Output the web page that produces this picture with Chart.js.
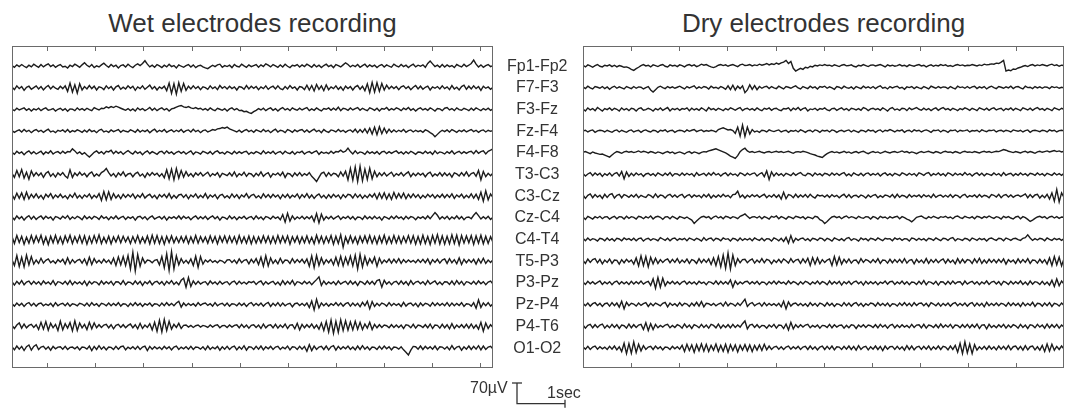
<!DOCTYPE html>
<html>
<head>
<meta charset="utf-8">
<script src="https://cdn.jsdelivr.net/npm/chart.js@4.4.1/dist/chart.umd.min.js"></script>
<style>
  body { margin: 0; background: #fff; width: 1070px; height: 410px; overflow: hidden; position: relative;
         font-family: "Liberation Sans", Arial, Helvetica, sans-serif; color: #333; }
  .title { position: absolute; top: 8px; font-size: 26px; line-height: 30px; text-align: center; white-space: nowrap; }
  .note { position: absolute; font-size: 16px; line-height: 18px; white-space: nowrap; }
  canvas { position: absolute; }
</style>
</head>
<body>
<div class="title" style="left:12px;width:481px">Wet electrodes recording</div>
<div class="title" style="left:583px;width:481px">Dry electrodes recording</div>
<canvas id="wet" width="583" height="410" style="left:0;top:0"></canvas>
<canvas id="dry" width="495" height="410" style="left:575px;top:0"></canvas>
<canvas id="bar" width="80" height="40" style="left:500px;top:370px"></canvas>
<div class="note" style="left:470px;top:379px">70µV</div>
<div class="note" style="left:547px;top:384px">1sec</div>
<script>
// Channel montage, top to bottom
const channels = ['Fp1-Fp2', 'F7-F3', 'F3-Fz', 'Fz-F4', 'F4-F8', 'T3-C3', 'C3-Cz',
                  'Cz-C4', 'C4-T4', 'T5-P3', 'P3-Pz', 'Pz-P4', 'P4-T6', 'O1-O2'];
const secondTicks = [1, 2, 3, 4, 5, 6, 7, 8, 9, 10];
const sampleStep = 0.0502;   // s between plotted samples (200 per trace)
const channelGapUV = 63.2;   // vertical spacing between traces, µV
const scaleUV = 70;
const scaleSec = 1;

// Wet electrode traces, µV
const wetTraces = [
  // Fp1-Fp2
  [2,-3,4,-1,5,0,-4,3,-2,6, 1,-3,5,-2,3,7,-1,4,-3,2, 5,-2,0,-5,3,-1,6,2,-3,4, 10,3,-2,5,-4,1,-2,4,9,2,
   -3,5,-1,3,-5,2,4,-2,6,0, -4,3,7,2,8,16,6,-2,3,-3, 5,1,-4,3,-2,6,-1,2,-5,4, 0,-3,2,5,-2,4,-4,1,3,-2,
   -5,-7,-2,3,-1,4,6,-3,2,-1, 3,-4,5,0,-2,6,1,-3,4,-1, 2,5,-3,4,-1,7,3,-2,5,1, -3,4,-2,6,0,-4,3,1,5,-2,
   4,-1,6,2,-3,5,-2,3,-4,2, 6,-1,3,-4,5,2,-2,4,10,5, -2,3,-1,5,-3,2,6,-2,4,-1, 3,-4,2,5,-2,4,0,-3,6,1,
   -2,5,-1,3,-4,2,6,-2,3,0, 4,-3,8,15,7,-1,3,-3,5,-2, 4,-1,2,-4,5,1,-2,6,-1,3, 8,18,6,-2,4,-3,2,5,-1,2],
  // F7-F3
  [3,-5,6,-2,4,-7,2,5,-4,1, 6,-3,4,-6,2,7,-3,5,-1,-4, 5,-2,6,-10,14,-12,9,-15,12,-6, 4,-3,7,-2,5,-6,3,1,-5,6,
   -2,4,-6,3,7,-4,2,-3,6,-1, 5,-7,3,-2,6,-4,2,8,-3,4, -6,3,-2,5,-8,14,-16,12,-18,15, -10,13,-7,5,-3,6,-2,4,-5,3,
   1,-4,6,-2,3,-5,7,-1,4,-3, 5,-2,3,-6,4,2,-4,7,-3,5, -1,4,-5,3,-2,6,-4,2,5,-3, 6,-2,-5,4,-3,7,-1,3,-6,4,
   2,-5,8,-6,7,-9,10,-4,6,-8, 9,-5,3,-2,6,-4,3,-7,5,-2, 4,-6,3,7,-4,5,-8,12,-14,16, -12,15,-10,13,-6,8,-3,5,-2,4,
   -5,3,6,-2,4,-5,2,7,-3,5, -4,2,5,-6,3,-1,4,-3,6,-2, 3,-5,7,-3,2,-6,4,8,-4,5, -3,6,-2,4,-7,5,-1,3,-4,2],
  // F3-Fz
  [1,-3,4,-1,2,5,-2,3,-4,2, -1,4,-3,2,5,-2,0,3,-4,1, 4,-2,3,-5,2,1,-3,5,-1,3, -2,4,0,-3,6,2,-1,4,3,8,
   5,9,6,10,7,4,1,-2,3,-3, 2,-4,5,-1,3,-3,1,6,-2,4, -3,2,5,-1,3,-4,2,4,7,10, 12,8,6,9,5,3,6,2,4,-1,
   3,-2,5,0,-3,4,1,-2,3,-4, 2,5,-1,3,-3,-2,-6,-5,-9,-11, -6,-2,3,-1,4,-3,2,5,-2,3, -4,2,6,-1,3,-3,5,1,-2,4,
   -1,3,6,-3,2,-2,5,0,-4,3, 1,5,-2,4,-1,7,-3,4,2,-2, 5,-1,3,6,-2,4,0,-3,5,2, -2,4,-4,3,1,6,-2,3,-1,5,
   2,-3,4,0,6,-2,3,-4,2,5, -1,3,-2,5,1,-4,3,2,-3,4, 6,-1,3,-3,5,0,-2,4,1,-3, 4,-2,5,1,-3,3,-1,4,-2,2],
  // Fz-F4
  [2,-3,1,4,-2,5,-1,3,-4,2, 5,-1,3,-3,2,6,-2,1,-4,3, 0,4,-2,5,-3,2,-1,4,1,-3, 3,-2,5,-1,2,-4,3,6,-2,1,
   -3,4,-1,2,5,-3,3,0,-2,4, 1,-3,5,-2,3,-1,4,-4,2,6, -2,3,-1,5,-3,1,4,-2,3,-1, 5,-3,2,4,-2,6,-1,3,-4,2,
   4,-2,1,5,3,7,8,11,9,12, 7,4,1,-2,3,-3,2,5,-1,3, -3,4,1,-2,5,-1,3,-4,2,6, -2,3,1,-4,5,2,-3,4,-1,3,
   5,-2,4,-3,2,6,-1,3,-4,5, 0,-3,4,2,-2,5,-1,3,-3,2, 4,-2,6,-4,5,-3,7,-5,9,-8, 12,-10,13,-7,9,-5,6,-3,4,-2,
   3,-1,5,-3,2,4,-2,3,-1,2, -3,4,1,-4,-8,-16,-9,-2,3,-1, 4,-2,5,1,-3,3,-1,4,-2,2, 5,-1,3,-3,2,4,-2,3,0,2],
  // F4-F8
  [2,-4,5,-1,3,-5,2,6,-2,4, -3,1,5,-4,3,-1,6,-3,2,4, -2,5,-1,4,3,12,6,-2,3,-4, 1,-6,-12,-5,2,6,-1,4,-3,5,
   3,8,-2,5,-1,4,-4,2,7,1, -3,5,-1,3,-5,2,6,-2,4,0, -4,3,5,-2,6,-1,3,-4,2,5, -1,4,-3,2,6,-4,3,1,-3,5,
   2,-2,4,-4,3,6,-1,2,-3,4, 1,-3,5,-2,4,-1,3,5,-4,2, -2,4,1,-3,6,-2,3,-1,5,-3, 2,4,-3,5,0,-2,4,-4,3,1,
   5,-3,2,4,-1,3,6,-4,3,-1, 2,-2,5,-1,4,3,8,2,5,14, 4,-3,6,-2,3,1,-4,5,-1,3, -2,4,-4,3,5,-2,4,-1,3,6,
   -1,3,-3,4,-2,5,1,-4,3,2, -2,5,-1,3,-4,6,-2,3,1,-3, 4,-1,6,-3,2,5,-2,4,-1,3, 5,-2,7,-1,4,6,-3,5,8,12],
  // T3-C3
  [4,-8,12,-6,15,-10,7,-13,11,-4, 6,-3,5,-8,4,9,-5,3,-7,5, -2,6,-4,-10,14,-8,5,-3,7,-2, 4,-6,3,8,-5,2,-4,6,10,18,
   6,-4,3,-7,5,-2,8,-5,2,4, -6,3,7,-4,2,-8,5,-3,6,-1, 4,-5,3,-9,14,-12,16,-15,18,-10, 12,-7,9,-4,3,-6,5,-2,6,-4,
   2,7,-5,3,-2,6,-7,4,1,-3, 5,-4,8,-6,3,-2,7,-5,4,2, -6,4,-3,8,-5,2,6,-7,3,-1, 5,-3,7,-8,4,2,-6,5,-3,6,
   -4,3,-2,6,-5,-12,-20,-8,4,7, -5,6,-3,4,2,-6,8,-4,10,-15, 18,-16,22,-20,24,-18,16,-14,19,-12, 10,-6,5,-3,6,-4,2,7,-5,3,
   -2,6,-4,3,8,-6,4,-3,5,-1, 4,-6,3,7,-5,2,-3,6,-4,5, -3,4,-7,5,2,-4,6,-3,8,-5, 3,6,-5,12,-15,9,-6,4,-3,5],
  // C3-Cz
  [5,-8,9,-6,10,-9,12,-7,6,-4, 7,-5,3,-8,6,-2,8,-6,4,-3, 6,-4,2,-7,5,-3,9,-5,3,-6, 4,-2,7,-6,3,-4,8,-12,14,-10,
   13,-9,8,-5,4,-7,6,-3,5,-2, 7,-6,4,-3,8,-5,2,6,-4,3, -7,5,-2,6,-4,8,-6,3,-5,4, 6,-3,5,-7,4,-2,7,-5,3,-4,
   8,-6,4,-2,5,-7,3,6,-4,2, -5,7,-3,5,-6,4,-2,8,-5,3, 6,-4,2,-6,7,-3,5,-4,6,-2, 4,-7,5,-3,6,-5,3,-2,7,-6,
   5,-3,8,-5,4,-6,2,7,-4,3, -6,5,-4,6,-2,4,-7,5,-3,6, 4,-5,7,-3,5,-6,3,-4,6,-2, 8,-7,9,-6,10,-8,7,-9,11,-6,
   8,-5,9,-7,6,-4,7,-3,5,-6, 3,-4,6,-2,5,-5,4,-3,6,-4, 5,-3,7,-6,4,-2,6,-5,3,-4, 7,-5,6,-9,12,-14,16,-10,7,-4],
  // Cz-C4
  [3,-5,6,-2,4,-6,2,7,-3,5, -4,2,6,-3,5,-1,3,-6,4,2, -3,5,-1,7,-4,3,-2,5,1,-5, 6,-2,4,-3,5,2,-4,6,-1,3,
   -5,4,-2,6,-3,2,5,-4,3,-1, 4,-6,3,5,-2,4,-5,2,6,-3, 1,4,-3,5,-6,3,-1,4,-2,6, -3,5,-1,3,-5,2,6,-3,4,-2,
   5,-4,2,6,-2,4,-6,3,1,-4, 6,-2,4,-5,3,-1,5,-3,2,4, -4,6,-2,3,-5,4,2,-3,5,-1, 3,-5,10,-12,14,-9,6,-4,3,-2,
   5,-3,4,-2,6,-10,13,-14,11,-6, 4,-2,5,-3,2,6,-4,3,-1,5, -3,4,-5,3,2,-4,6,-2,4,-3, 5,-2,3,-6,4,1,-3,5,-2,6,
   -1,3,-4,5,-2,4,2,-5,3,-1, 4,-3,6,-2,7,16,8,-3,4,-2, 5,-4,3,-2,6,-3,4,-5,2,3, -2,8,16,7,-3,4,-2,5,-4,2],
  // C4-T4
  [9,-11,12,-8,10,-13,7,-10,12,-9, 11,-7,13,-12,8,-14,10,-9,13,-10, 8,-12,11,-7,13,-11,9,-8,12,-10, 11,-13,9,-10,12,-8,14,-11,7,-9,
   10,-12,8,-7,11,-9,10,-6,8,-11, 9,-8,12,-10,7,-9,11,-12,13,-10, 12,-11,9,-13,10,-8,11,-9,7,-8, 9,-7,10,-11,8,-9,12,-10,9,-7,
   8,-10,11,-8,9,-12,10,-7,11,-9, 10,-8,9,-11,12,-9,8,-10,11,-12, 9,-10,8,-9,11,-8,10,-11,9,-10, 12,-9,10,-8,11,-13,9,-7,10,-11,
   8,-9,11,-10,7,-12,13,-9,10,-11, 9,-8,12,-13,10,-11,14,-22,8,-10, 11,-9,8,-12,10,-8,11,-9,12,-10, 9,-12,10,-9,13,-11,8,-10,12,-9,
   10,-11,9,-8,12,-10,11,-13,9,-12, 13,-11,9,-14,12,-10,15,-12,11,-13, 10,-12,14,-11,13,-15,12,-10,11,-9, 12,-14,11,-10,13,-12,10,-11,9,-8],
  // T5-P3
  [5,-12,17,-15,12,-16,18,-10,14,-8, 4,-6,9,-5,3,7,-4,2,-6,5, -2,6,-8,10,-7,5,-4,3,6,-5, 7,-10,12,-9,8,-4,3,-5,6,-3,
   4,-7,9,-12,13,-10,14,-12,17,-22, 26,-28,20,-14,10,-5,4,2,-4,3, 5,-10,14,-18,22,-26,28,-22,16,-10, 8,-5,3,-6,7,-12,15,-17,14,-8,
   4,-2,5,-3,2,-4,3,1,-5,4, 5,-3,4,-6,7,-4,3,5,-7,6, -4,8,-9,12,-14,16,-13,10,-6,4, -7,9,-5,4,3,-6,8,-4,5,-3,
   6,-5,7,-14,16,-18,17,-12,10,-8, 5,-4,6,-10,12,-11,15,-13,12,-9, 15,-13,18,-22,20,-16,14,-10,8,-5, 12,-14,9,-6,4,-3,7,-5,6,-4,
   8,-6,5,-3,4,-2,3,-4,5,-3, 6,-4,7,-8,5,-3,6,-5,4,7, -6,8,-4,5,-7,10,-9,6,-4,5, -3,6,-8,7,-5,9,-6,4,-3,5],
  // P3-Pz
  [4,-6,5,-3,7,-5,3,6,-4,5, -3,4,-5,6,-2,3,-4,7,-6,4, 2,-3,5,-4,7,-5,4,-2,3,-4, 6,-7,5,-3,4,2,-5,6,-3,4,
   -2,5,-6,4,3,-4,7,-5,3,2, -4,6,-3,5,-7,4,-2,6,-5,3, 5,-3,4,-6,5,-2,7,-4,3,-5, 8,14,-12,16,-10,6,-4,5,-3,2,
   4,-5,6,-2,3,-4,5,-3,2,4, -5,3,6,-4,5,-2,3,-3,4,1, 5,-4,3,6,-5,4,-3,2,5,-4, 3,-6,7,-4,5,-3,8,-6,4,2,
   -3,5,-2,4,-5,3,10,18,-7,6, -4,3,-2,4,-5,6,-3,2,5,-4, 6,-3,4,-7,5,2,-4,6,-3,5, -4,7,10,-12,8,-3,4,-5,3,5,
   -4,6,-3,4,-6,7,-4,3,5,-2, 4,-5,7,-3,2,6,-4,3,-5,4, 3,-4,6,-5,7,-3,5,-6,4,2, -3,5,-4,6,-2,4,-5,3,6,-3],
  // Pz-P4
  [3,-4,5,-2,4,-5,3,6,-3,4, -4,3,5,-3,2,-2,4,-5,6,-3, 2,4,-3,5,-4,3,1,-3,4,2, -3,5,-4,6,-2,3,-5,4,2,-3,
   5,-3,4,-2,6,-4,3,2,-5,4, -3,6,-2,4,-5,3,-1,5,-4,3, 2,-4,5,-3,6,-2,4,-3,5,10, -7,5,-3,4,-2,3,-4,6,-2,3,
   5,-2,3,-4,6,-3,2,4,-3,5, -4,3,2,-3,5,-2,4,-5,3,6, -3,4,-2,5,-4,3,7,-5,4,-3, 6,-4,5,-3,2,4,-6,3,5,-2,
   4,-3,5,-8,11,-15,16,-9,5,-3, 4,-4,3,-2,6,-3,5,-4,3,6, -4,5,-3,4,-6,7,-3,10,-12,9, -5,4,-3,5,2,-4,6,-3,4,-2,
   3,-5,7,-4,3,5,-3,4,-6,5, -3,4,2,-4,6,-3,5,-2,4,-3, 6,-4,5,-3,4,-2,6,-5,3,2, -4,6,-10,14,-8,5,-3,6,-4,3],
  // P4-T6
  [3,-6,4,10,-5,7,-4,3,6,-3, 5,-9,12,-8,14,-11,9,-4,6,-12, 15,-10,8,-5,11,-13,16,-12,10,-4, 6,-9,12,-7,10,-4,5,-3,4,6,
   -4,5,-7,3,6,-3,5,-4,3,7, -4,5,-7,9,-6,4,-3,8,-10,12, -14,18,-16,20,-12,15,-8,6,-3,9, -6,3,4,-2,3,-3,2,4,-2,3,
   1,-3,4,-2,3,5,-4,2,3,-3, 4,-2,3,5,-4,6,-3,4,-5,3, 5,-3,4,-6,7,-4,3,5,-4,6, -5,4,-3,7,-6,4,5,-7,9,-10,
   6,-4,5,-3,7,-5,4,-8,10,-12, 14,-16,18,-20,15,-17,19,-12,16,-11, 13,-10,15,-8,12,-9,7,-5,12,-9, 6,-4,5,-3,4,2,-4,5,-3,4,
   -3,4,-6,5,3,-4,6,-5,4,2, -3,5,-4,7,-6,4,3,-5,6,-4, 5,-7,8,-6,4,-3,5,-4,6,-5, 7,-5,4,-8,12,-14,10,-6,5,-3],
  // O1-O2
  [4,-5,6,-3,5,-7,4,9,-6,5, 10,-4,3,5,-3,4,-6,5,-2,3, 4,-3,5,-4,2,3,-2,4,-5,3, 2,-3,6,-7,5,-4,7,-3,4,-5,
   3,2,-4,5,-3,4,6,-5,3,-2, 4,-3,5,-4,3,6,-7,5,-3,4, -2,3,-4,5,-2,4,-5,3,6,-4, 3,-2,4,-3,5,-4,3,2,-3,4,
   -5,6,-4,3,-2,5,-6,4,-3,5, -4,3,6,-5,4,-3,7,-6,4,3, -4,5,-3,6,-5,4,-2,5,-4,3, 5,-4,3,-2,6,-5,4,3,-4,5,
   -3,5,-9,10,-7,6,-4,3,5,-4, 6,-5,4,7,-6,5,-3,4,-2,6, -4,3,-5,6,-4,7,-3,4,-5,3, 2,-4,5,-3,6,-2,4,-5,3,2,
   -3,4,-5,-12,-20,-6,5,4,-3,6, -4,5,-2,4,-3,6,-5,4,3,-3, 4,-5,7,-4,3,5,-6,4,-3,6, -4,5,-3,7,-5,6,-4,3,5,-3]
];

// Dry electrode traces, µV
const dryTraces = [
  // Fp1-Fp2
  [3,-2,4,1,-3,2,5,0,-2,3, 1,4,-1,3,-2,2,0,-3,-2,-5, -9,-12,-7,-3,2,5,1,3,-2,4, 2,-1,3,5,0,-2,4,1,3,-1,
   4,2,-2,3,5,1,4,-1,2,6, 3,5,1,-2,-4,-1,3,5,2,4, 0,3,5,2,-1,4,6,2,3,5, 1,4,2,6,3,5,8,4,7,5,
   9,6,10,12,17,8,14,-6,-14,-10, -6,-9,-3,-5,0,-2,3,1,4,2, 5,2,3,0,4,2,-1,3,5,1, 2,4,0,-2,3,1,5,2,-1,3,
   4,1,3,5,2,-2,4,1,3,0, 2,5,1,3,-1,4,2,0,3,5, 1,3,-2,2,4,0,3,1,5,2, 4,0,2,-1,3,5,2,4,1,3,
   2,5,3,1,4,2,6,4,5,7, 6,9,8,12,17,-14,-11,-13,-8,-9, -5,-3,0,2,-1,3,5,1,4,2, 5,3,1,4,6,2,4,0,3,2],
  // F7-F3
  [3,-2,5,0,-3,4,2,-1,4,-2, 3,-4,2,5,-1,3,0,-3,4,1, -2,4,-1,3,2,-3,1,4,-6,-12, -5,2,5,1,-2,4,0,3,-1,2,
   5,1,-3,4,0,3,6,-2,3,-1, 4,2,-3,5,0,2,-2,4,1,-4, 6,-5,8,-6,5,-2,6,-14,-6,9, -4,7,-5,4,-1,3,5,-2,4,0,
   -2,5,1,-3,4,2,-1,3,6,0, -3,4,1,-2,5,0,3,-3,4,2, 5,-1,3,0,-4,4,2,-2,5,1, -1,3,-3,4,1,-2,5,0,3,-1,
   4,-2,3,6,-1,2,-3,4,0,3, 5,-1,2,-4,3,1,4,-2,3,0, -2,4,1,-3,5,2,-1,4,0,3, 2,-2,4,0,-3,5,1,3,-1,4,
   -1,3,5,-2,3,0,4,-3,2,5, 1,-2,4,2,-1,3,0,5,-2,3, 4,0,-3,5,1,2,-2,4,0,3, -1,3,2,-2,4,1,3,-1,2,0],
  // F3-Fz
  [2,-4,5,-1,3,-3,6,1,-4,3, 0,5,-2,4,1,-4,5,-1,3,-3, 4,2,-4,3,5,-2,0,4,1,-4, 3,-1,5,-2,2,6,-4,3,0,4,
   -2,3,1,5,-3,4,-1,3,-2,5, 1,-4,6,0,3,-2,4,1,-3,3, -1,5,2,-2,3,6,-3,2,4,-1, 3,-2,5,0,-3,4,1,5,-2,3,
   4,-1,-3,3,2,5,-3,4,0,6, -2,3,5,-4,2,0,4,-2,3,1, 5,-1,-3,3,4,-2,2,5,-1,3, -3,4,2,-1,3,-2,6,3,-3,2,
   4,0,3,-2,5,1,-4,3,6,-1, 2,-2,4,3,-3,5,0,3,6,1, -2,4,-1,3,-3,2,5,-2,3,6, 0,3,-2,4,1,-3,3,0,5,2,
   -2,4,1,-3,5,2,-1,4,-2,3, 5,-1,2,4,-3,3,0,5,-2,4, 1,-3,5,2,-1,4,-2,3,6,0, 3,-2,4,1,-3,5,2,-1,4,1],
  // Fz-F4
  [1,3,-2,2,4,-3,1,3,2,-2, 3,0,-3,2,4,-2,3,0,-3,2, 4,-2,1,3,-3,2,4,0,-2,3, 2,-3,3,1,4,-2,2,3,-3,1,
   3,2,-2,4,0,3,5,-1,2,4, -1,2,0,3,1,-2,5,8,10,7, 4,5,2,-6,12,-14,18,-15,12,-8, 5,-2,1,-3,3,2,-2,4,1,-1,
   2,4,-2,1,3,-3,2,0,3,-2, 4,1,-3,2,3,-2,4,2,-3,3, 1,3,-2,4,2,-3,1,3,-1,2, 4,-2,3,0,-3,3,2,-2,4,1,
   3,-3,2,4,-2,3,1,5,2,-2, 3,1,4,-3,2,3,-2,4,1,3, -2,2,4,1,-3,3,2,4,-2,3, 1,-3,3,2,4,-2,3,1,2,4,
   -2,2,1,3,-2,4,1,-1,3,2, 4,-2,2,3,-1,3,1,-2,4,2, 0,3,-2,2,4,-3,2,3,1,-1, 3,2,-2,4,1,3,-2,2,3,1],
  // F4-F8
  [2,4,1,-2,3,0,-2,-4,-3,-6, -9,-12,-6,0,4,2,-1,3,5,2, 4,1,3,6,2,5,3,0,4,2, -1,3,1,-2,2,4,0,3,-2,1,
   3,0,-3,2,4,-1,3,1,-2,2, 4,3,6,8,10,12,9,6,3,0, -4,-9,-12,-16,-8,4,10,14,6,2, 4,1,3,5,2,0,3,4,1,3,
   5,2,4,1,3,5,2,-1,3,4, 2,5,3,1,-2,-4,-6,-9,-11,-13, -7,-2,2,4,1,3,0,2,5,1, 3,-1,2,4,0,3,5,1,-2,2,
   4,1,3,-1,2,5,2,0,3,4, 1,3,6,2,4,0,3,1,-2,2, 4,1,3,5,2,0,4,2,-1,3, 5,2,3,0,4,2,-1,3,5,2,
   3,1,4,2,0,3,5,2,4,1, 3,5,4,7,10,8,5,3,1,4, 2,0,3,5,1,4,2,-1,3,5, 2,4,6,3,5,7,4,6,3,5],
  // T3-C3
  [3,-4,2,6,-3,5,-1,4,-5,3, -2,5,-4,3,6,-4,9,-12,8,-5, 4,-3,5,-1,3,-5,2,4,-2,3, -4,5,1,-3,4,-2,6,-4,3,2,
   -3,5,-2,4,-1,3,-5,6,-2,1, 4,-3,5,-2,6,-1,3,-4,2,5, -3,4,-1,2,-4,5,2,-3,4,-1, 3,5,-4,2,6,-6,11,-14,8,-4,
   5,-2,3,-4,4,1,-3,5,-2,3, 6,-1,-3,4,2,-4,5,-1,3,-3, 4,2,-3,5,-1,4,-2,3,6,-3, 2,-4,5,1,-2,4,-3,3,5,-2,
   3,-1,4,-4,2,5,-2,3,-3,4, 1,-3,5,2,-2,4,-1,3,-4,5, 2,-2,4,6,-3,3,-1,5,-2,3, -4,5,2,-3,4,-1,3,-2,6,-1,
   3,-4,2,5,-2,4,-3,3,1,-2, 5,-1,3,-4,6,-2,2,4,-3,3, -2,5,-1,3,-3,4,2,-2,5,-1, 3,-3,4,1,-2,5,-1,3,-2,4],
  // C3-Cz
  [4,-6,3,7,-4,5,-2,3,-6,6, -3,5,8,-5,3,6,-4,5,2,-3, 4,-2,6,-4,3,-1,-3,5,2,-4, 7,-3,4,2,-5,3,6,-2,4,-3,
   3,6,-4,2,5,-3,4,-1,3,-4, 5,-2,6,-5,3,-3,4,-2,6,-1, 3,-4,5,6,15,-3,4,-5,3,-2, 5,-1,4,-3,2,6,-4,3,-2,5,
   -3,4,-8,12,-7,5,3,-4,6,-3, 4,-2,5,-3,6,-1,-5,4,1,3, -2,4,-3,5,-1,3,-4,2,6,-3, 5,-4,2,3,-3,4,1,-5,4,-2,
   3,5,-4,2,-3,4,2,-2,5,-4, 6,-3,3,1,-4,5,-2,3,-1,4, -3,5,-1,3,-4,6,-3,2,4,-2, 3,-2,5,-3,4,2,-4,3,6,-3,
   2,-1,4,-3,5,-2,3,1,-4,5, 3,-2,6,-4,3,5,-2,4,-3,2, 4,-1,3,7,-4,5,-3,4,6,-5, 3,-4,6,-8,10,-14,20,-16,10,-3],
  // Cz-C4
  [3,-4,5,1,-3,4,0,5,-2,3, 4,-3,2,5,-2,4,3,-3,5,-1, 4,2,-3,5,3,-2,4,0,6,-3, 3,5,2,-4,3,4,-2,5,1,-3,
   4,2,-1,3,-2,-6,-16,-9,-2,3, 5,1,4,-3,3,6,0,4,-2,5, 3,-1,4,2,-2,5,8,12,5,-1, 3,4,0,5,-2,4,1,-3,5,2,
   6,-2,4,1,-3,4,2,-2,5,3, 0,4,-3,3,1,-2,5,3,-5,-8, -16,-10,-3,3,5,1,4,-2,3,6, 0,4,2,-2,5,1,-1,4,3,-3,
   4,2,-3,5,1,3,-2,4,0,3, 5,-2,4,1,-3,-6,-11,-5,2,4, 6,1,-2,4,0,5,2,-1,4,2, 5,0,3,-2,4,6,1,-1,5,2,
   0,4,-2,5,3,-1,4,1,6,2, -1,4,2,-3,5,1,4,0,-3,3, 5,-2,4,1,-4,-10,-6,-1,3,5, 1,4,-2,3,5,0,4,-1,3,2],
  // C4-T4
  [4,-3,5,-2,3,1,-4,4,2,-3, 5,-2,3,-4,4,2,-3,5,0,3, -2,4,-3,3,5,-4,2,4,-2,3, 1,-3,6,2,-2,4,-3,3,5,-2,
   3,0,4,-3,5,2,-2,4,1,-4, 6,-2,3,5,-3,4,2,-3,5,1, 3,-4,4,2,-3,5,-2,3,-1,4, -3,5,1,-2,4,-3,3,2,-4,5,
   2,-3,4,-5,7,-10,12,-8,4,-2, 3,5,-2,3,-4,4,2,-2,5,3, -3,4,1,-4,5,2,-2,3,-3,4, 6,-2,3,1,-4,5,0,3,-3,4,
   2,-2,5,1,-3,4,2,3,-3,5, 1,4,-2,3,2,-4,5,3,-2,4, -1,3,-3,4,2,-2,5,1,-3,4, 3,-2,4,6,-3,3,1,-2,4,2,
   -3,5,2,-2,4,0,3,-4,3,5, 1,-2,4,3,-3,5,2,-2,3,4, 0,-2,4,6,14,5,-2,3,-1,4, 2,-3,5,1,-2,4,0,3,-2,3],
  // T5-P3
  [3,-6,7,-3,5,8,-4,6,-7,4, -3,7,-6,4,3,-8,5,-4,6,-2, 4,-8,10,-13,16,-12,14,-16,12,-7, 9,-6,5,-3,4,7,-4,6,-3,8,
   -5,4,-3,7,-6,5,2,-6,8,-4, 6,-3,7,-9,10,-12,14,-16,18,-20, 24,-22,18,-12,8,-4,5,6,-4,3, 7,-5,4,-3,8,-4,6,3,-7,4,
   -3,6,-4,7,2,-5,8,-3,4,6, -6,7,-4,9,-12,11,-8,10,-7,5, -3,4,7,-12,14,-10,12,-8,6,-4, 7,-5,3,4,-6,8,-3,5,2,-4,
   5,-3,8,-6,4,3,-5,6,-4,5, -3,6,-4,8,-5,3,5,-7,6,-3, 4,-5,8,-6,5,-3,6,-4,3,7, -5,6,-3,4,-7,8,-5,6,-4,5,
   3,-6,7,-4,9,-6,4,-5,6,-3, 5,-4,6,-3,7,-8,5,-2,4,-6, 7,-4,5,-3,8,-6,4,3,-5,6, -4,5,-8,10,-12,14,-10,12,-13,8],
  // P3-Pz
  [3,-4,5,-2,4,-3,2,6,-4,3, -2,4,-5,3,6,-3,4,-2,3,-4, 5,-3,4,-2,6,-3,2,5,-7,12, -15,16,-12,14,-8,4,-2,5,-3,4,
   -4,3,6,-3,4,-2,3,-4,5,-1, 3,-5,4,2,-3,6,-4,5,-3,4, -3,9,-12,6,-4,3,-2,4,5,-3, 4,-2,5,-4,3,2,-5,4,-2,6,
   -3,5,-1,3,-4,6,-2,4,1,-5, 4,-3,5,2,-4,3,-2,6,-3,4, 1,-5,6,-3,4,-2,5,-6,4,-2, 5,-4,3,6,-2,4,-6,5,-3,4,
   -2,4,-5,3,-1,6,-3,4,5,-4, 3,-2,6,-3,4,-5,3,2,-4,5, -3,7,-5,4,2,-3,5,-6,4,3, -4,5,-3,6,-2,3,4,-5,6,-3,
   2,5,-3,4,-5,3,-2,6,-4,3, 5,-3,4,-6,5,2,-4,5,-3,4, -2,6,-4,3,-5,6,-3,4,2,-4, 5,-4,3,-6,8,-10,12,-8,6,-3],
  // Pz-P4
  [4,-3,5,-4,3,6,-2,4,-5,3, 5,-4,6,-3,5,-7,10,-12,7,-3, 4,2,-4,5,-2,3,6,-5,4,-3, 5,1,-3,4,7,-6,5,-2,3,-4,
   6,-3,4,2,-5,5,-3,7,-4,9, -6,4,3,-2,4,-3,2,5,-4,8, -3,4,2,-4,5,-2,7,16,-5,3, 6,-3,2,5,-4,6,-3,4,-2,3,
   -3,4,-6,10,-12,8,-4,3,5,-2, 4,-3,3,-5,6,-2,4,-4,5,2, -4,6,-2,4,-5,3,1,-4,6,-3, 5,-4,3,6,-3,4,-5,3,-2,5,
   3,-4,6,-2,4,-3,5,-5,3,2, -4,5,-2,6,-3,4,-4,6,-2,4, 5,-3,4,-5,6,2,-3,5,-4,4, -2,5,-4,3,6,-3,4,-2,5,-4,
   3,6,-4,5,-3,4,-6,7,-3,4, -2,5,-3,4,2,-4,6,-3,5,-2, 4,-5,6,-3,4,-2,7,-5,4,3, -4,5,-3,6,-5,4,2,-4,5,-2],
  // P4-T6
  [4,-5,3,6,-4,5,-3,4,7,-5, 3,-4,6,-3,5,-6,4,2,-5,7, -4,5,-3,4,6,-9,11,-12,8,-9, 6,-4,3,-2,4,6,-4,3,-3,5,
   2,-5,7,-3,4,-6,5,2,-4,6, -3,4,-5,6,3,-4,7,-5,4,-3, 5,-4,6,-3,4,-2,8,16,-7,4, 6,-3,5,-4,3,2,-5,4,-2,6,
   -5,4,3,-6,7,-10,12,-7,5,-3, 5,-2,4,6,-4,3,-2,4,-5,3, 2,-3,6,-4,5,-2,3,4,-5,3, -4,5,3,-6,4,-2,5,-3,4,2,
   -3,5,-4,6,-2,4,-5,3,6,-4, 4,-3,5,-2,3,-4,6,-3,4,5, -4,6,-5,4,2,-3,5,-4,7,-3, 4,-2,6,-5,4,3,-4,5,-3,6,
   -4,5,-3,7,-6,4,5,-7,6,-3, 3,-4,5,-2,6,-5,4,-3,5,2, -5,6,-3,4,-6,5,3,-4,6,-2, 4,-5,7,-4,5,-3,6,-5,4,-2],
  // O1-O2
  [4,-3,5,-4,3,6,-3,4,-2,3, -4,5,-3,6,-5,4,-10,14,-16,13, -15,18,-13,11,-8,7,-4,3,5,-4, 6,-2,4,-5,3,2,-4,5,-2,4,
   -3,8,-10,11,-7,9,-12,10,-8,12, -9,11,-10,8,-6,12,-10,8,-9,11, -12,10,-7,9,-11,8,-6,10,-8,9, -10,8,-6,9,-7,11,-5,6,-4,3,
   5,-3,4,-4,3,6,-3,4,-2,5, -4,3,5,-4,6,-3,4,-5,3,6, -4,5,-3,6,-5,4,3,-4,5,-3, 6,-4,5,-6,7,-4,3,5,-5,4,
   -3,6,-4,5,-7,6,-3,4,5,-4, 5,-3,4,-6,7,-4,6,-5,3,5, -4,5,-3,6,-5,4,-3,6,-4,5, 3,-5,6,-4,8,-12,14,-16,18,-14,
   12,-16,10,-6,4,-3,5,-4,6,-3, 4,-5,6,-3,5,-4,7,-5,4,6, -4,5,-6,7,-5,4,6,-5,4,-6, 8,-10,12,-9,11,-6,5,-4,6,-3]
];

const traceColor = '#1c1c1c';
const frameColor = '#6a6a6a';
const traceSpan = 199 * sampleStep;

function buildDatasets(traces, t0) {
  return traces.map((trace, i) => ({
    label: channels[i],
    data: trace.map((v, k) => ({ x: t0 + k * sampleStep, y: (channels.length - 1 - i) * channelGapUV + v })),
    borderColor: traceColor,
    borderWidth: 1.4,
    pointRadius: 0,
    tension: 0
  }));
}

// box round the plot area with inward second ticks on top and bottom
const framePlugin = {
  id: 'frame',
  afterDatasetsDraw(chart) {
    const { ctx, chartArea: a, scales: { x } } = chart;
    ctx.save();
    ctx.strokeStyle = frameColor;
    ctx.lineWidth = 1;
    ctx.strokeRect(Math.round(a.left) + 0.5, Math.round(a.top) + 0.5,
                   Math.round(a.width) - 1, Math.round(a.height) - 1);
    ctx.beginPath();
    secondTicks.forEach(t => {
      if (t <= x.min || t >= x.max) return;
      const px = Math.round(x.getPixelForValue(t)) + 0.5;
      ctx.moveTo(px, a.top); ctx.lineTo(px, a.top + 5);
      ctx.moveTo(px, a.bottom); ctx.lineTo(px, a.bottom - 5);
    });
    ctx.stroke();
    ctx.restore();
  }
};

const yMin = -58;
const yMax = (channels.length - 1) * channelGapUV + 59;

function panelOptions(t0, showLabels, padding) {
  return {
    responsive: false,
    animation: false,
    events: [],
    layout: { padding },
    plugins: { legend: { display: false }, tooltip: { enabled: false } },
    scales: {
      x: { type: 'linear', display: false, min: t0, max: t0 + traceSpan },
      y: {
        type: 'linear',
        display: showLabels,
        position: 'right',
        min: yMin,
        max: yMax,
        grid: { display: false, drawTicks: false },
        border: { display: false },
        afterBuildTicks: s => { s.ticks = channels.map((c, i) => ({ value: (channels.length - 1 - i) * channelGapUV })); },
        afterFit: s => { s.width = showLabels ? 90 : 0; },
        ticks: {
          autoSkip: false,
          crossAlign: 'center',
          padding: 14,
          color: '#333',
          font: { family: '"Liberation Sans", Arial, sans-serif', size: 16 },
          callback: v => channels[channels.length - 1 - Math.round(v / channelGapUV)]
        }
      }
    }
  };
}

new Chart(document.getElementById('wet'), {
  type: 'line',
  data: { datasets: buildDatasets(wetTraces, 0.27) },
  options: panelOptions(0.27, true, { left: 12, top: 46, bottom: 42, right: 0 }),
  plugins: [framePlugin]
});

new Chart(document.getElementById('dry'), {
  type: 'line',
  data: { datasets: buildDatasets(dryTraces, 0) },
  options: panelOptions(0, false, { left: 8, top: 46, bottom: 42, right: 6 }),
  plugins: [framePlugin]
});

// 70 µV / 1 sec calibration bar
new Chart(document.getElementById('bar'), {
  type: 'line',
  data: {
    datasets: [{
      data: [{ x: 0, y: scaleUV }, { x: 0, y: 0 }, { x: scaleSec, y: 0 }],
      borderColor: '#333',
      borderWidth: 1.3,
      pointStyle: 'line',
      pointRadius: [5, 0, 4],
      pointRotation: [0, 0, 90],
      pointBorderColor: '#333',
      pointBorderWidth: 1.3,
      clip: false
    }]
  },
  options: {
    responsive: false,
    animation: false,
    events: [],
    layout: { padding: { left: 17, right: 15, top: 13, bottom: 3 } },
    plugins: { legend: { display: false }, tooltip: { enabled: false } },
    scales: {
      x: { type: 'linear', display: false, min: 0, max: scaleSec },
      y: { type: 'linear', display: false, min: 0, max: scaleUV }
    }
  }
});
</script>
</body>
</html>
